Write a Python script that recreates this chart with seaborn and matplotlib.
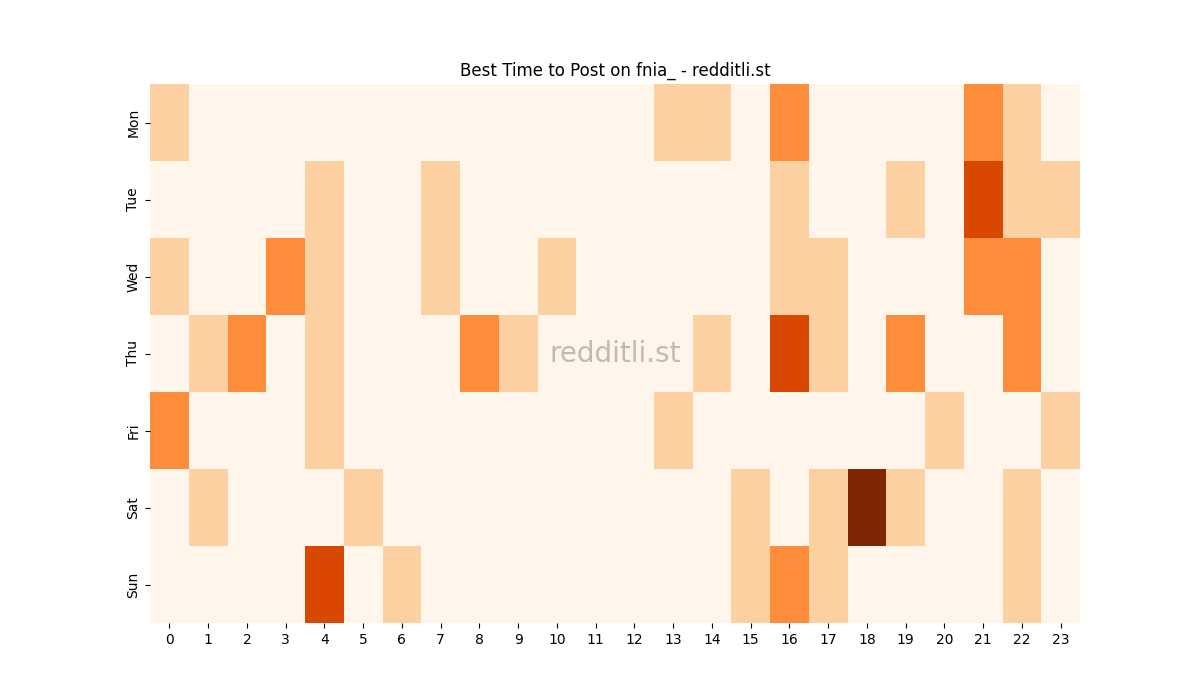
import numpy as np
import pandas as pd
import matplotlib
matplotlib.use("Agg")
import matplotlib.pyplot as plt
import seaborn as sns

days = ["Mon", "Tue", "Wed", "Thu", "Fri", "Sat", "Sun"]
hours = list(range(24))

mon = [1, 0, 0, 0, 0, 0, 0, 0, 0, 0, 0, 0, 0, 1, 1, 0, 2, 0, 0, 0, 0, 2, 1, 0]
tue = [0, 0, 0, 0, 1, 0, 0, 1, 0, 0, 0, 0, 0, 0, 0, 0, 1, 0, 0, 1, 0, 3, 1, 1]
wed = [1, 0, 0, 2, 1, 0, 0, 1, 0, 0, 1, 0, 0, 0, 0, 0, 1, 1, 0, 0, 0, 2, 2, 0]
thu = [0, 1, 2, 0, 1, 0, 0, 0, 2, 1, 0, 0, 0, 0, 1, 0, 3, 1, 0, 2, 0, 0, 2, 0]
fri = [2, 0, 0, 0, 1, 0, 0, 0, 0, 0, 0, 0, 0, 1, 0, 0, 0, 0, 0, 0, 1, 0, 0, 1]
sat = [0, 1, 0, 0, 0, 1, 0, 0, 0, 0, 0, 0, 0, 0, 0, 1, 0, 1, 4, 1, 0, 0, 1, 0]
sun = [0, 0, 0, 0, 3, 0, 1, 0, 0, 0, 0, 0, 0, 0, 0, 1, 2, 1, 0, 0, 0, 0, 1, 0]

df = pd.DataFrame([mon, tue, wed, thu, fri, sat, sun], index=days, columns=hours)

fig, ax = plt.subplots(figsize=(12, 7), dpi=100)
sns.heatmap(df, cmap="Oranges", cbar=False, ax=ax)
ax.set_title("Best Time to Post on fnia_ - redditli.st")
ax.set_xlabel("")
ax.set_ylabel("")
ax.text(0.5, 0.5, "redditli.st", transform=ax.transAxes, ha="center", va="center",
        fontsize=20, color="grey", alpha=0.5)
fig.savefig("out.png")
